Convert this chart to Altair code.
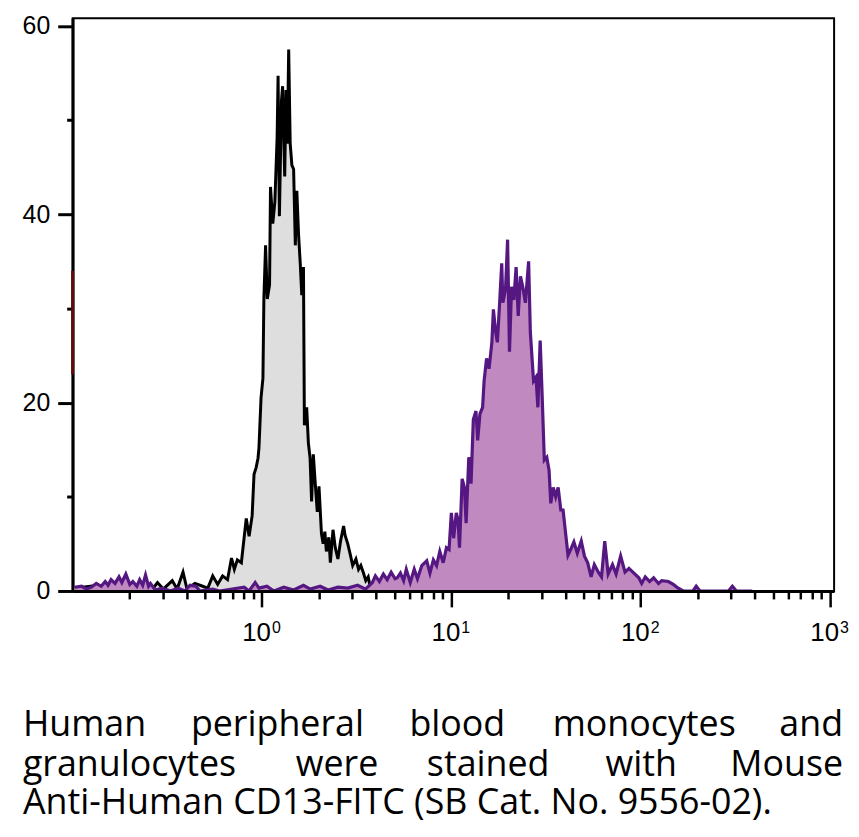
import altair as alt
import pandas as pd

# ---------------- data ----------------
# Unstained control (gray filled, black outline): log10 fluorescence, count
control_log = [-0.990, -0.865, -0.797, -0.719, -0.641, -0.604, -0.578, -0.552, -0.521, -0.474,
               -0.448, -0.417, -0.396, -0.354, -0.313, -0.286, -0.260, -0.234, -0.208, -0.182,
               -0.161, -0.146, -0.130, -0.109, -0.083, -0.068, -0.052, -0.042, -0.031, -0.021,
               -0.016, -0.005, 0.005, 0.010, 0.019, 0.028, 0.040, 0.045, 0.057, 0.068,
               0.080, 0.085, 0.092, 0.103, 0.109, 0.120, 0.127, 0.134, 0.141, 0.149,
               0.158, 0.167, 0.176, 0.184, 0.193, 0.202, 0.210, 0.219, 0.224, 0.236,
               0.245, 0.254, 0.262, 0.271, 0.280, 0.292, 0.301, 0.314, 0.323, 0.332,
               0.340, 0.353, 0.361, 0.375, 0.387, 0.401, 0.415, 0.431, 0.439, 0.453,
               0.467, 0.479, 0.496, 0.510, 0.522, 0.536, 0.548, 0.561, 0.574, 0.589]
control_count = [0.3, 0.6, 0.2, 0.5, 0.3, 0.7, 0.2, 0.9, 0.2, 1.1,
                 0.2, 2.0, 0.2, 0.8, 0.5, 0.3, 1.6, 0.7, 1.6, 1.2,
                 3.5, 2.3, 3.3, 3.0, 7.7, 5.8, 8.0, 12.4, 13.1, 14.1,
                 15.2, 20.5, 22.6, 31.0, 36.7, 31.0, 32.5, 42.9, 39.0, 41.3,
                 48.2, 54.7, 39.8, 52.1, 53.6, 44.0, 53.2, 47.5, 57.5, 47.5,
                 45.2, 44.8, 36.7, 42.5, 37.9, 34.8, 31.4, 34.4, 17.6, 19.5,
                 15.7, 14.1, 9.5, 14.5, 11.8, 8.4, 11.1, 6.1, 5.0, 6.3,
                 4.2, 5.7, 3.0, 6.5, 4.6, 3.4, 5.3, 6.9, 5.9, 5.0,
                 3.8, 2.7, 3.4, 2.3, 2.7, 1.9, 1.1, 1.5, 0.2, 0.0]

# CD13-FITC stained cells (purple): log10 fluorescence, count
stained_log = [-0.990, -0.953, -0.927, -0.901, -0.875, -0.849, -0.828, -0.813, -0.797, -0.776,
               -0.755, -0.740, -0.719, -0.698, -0.682, -0.661, -0.646, -0.630, -0.615, -0.599,
               -0.589, -0.563, -0.526, -0.484, -0.443, -0.406, -0.380, -0.349, -0.328, -0.260,
               -0.224, -0.094, -0.068, -0.036, -0.016, 0.026, 0.063, 0.115, 0.167, 0.219,
               0.255, 0.307, 0.349, 0.401, 0.453, 0.505, 0.547, 0.583, 0.599, 0.620,
               0.641, 0.661, 0.682, 0.703, 0.714, 0.731, 0.748, 0.762, 0.783, 0.804,
               0.821, 0.844, 0.870, 0.887, 0.905, 0.922, 0.939, 0.957, 0.974, 0.988,
               1.000, 1.012, 1.026, 1.035, 1.043, 1.057, 1.069, 1.078, 1.092, 1.104,
               1.116, 1.130, 1.139, 1.151, 1.165, 1.173, 1.186, 1.199, 1.214, 1.222,
               1.234, 1.243, 1.255, 1.266, 1.272, 1.286, 1.297, 1.307, 1.318, 1.330,
               1.342, 1.353, 1.365, 1.377, 1.391, 1.408, 1.417, 1.434, 1.447, 1.457,
               1.469, 1.478, 1.491, 1.504, 1.516, 1.525, 1.538, 1.551, 1.564, 1.578,
               1.590, 1.603, 1.616, 1.630, 1.647, 1.665, 1.686, 1.703, 1.720, 1.738,
               1.755, 1.776, 1.793, 1.810, 1.828, 1.851, 1.870, 1.894, 1.917, 1.938,
               1.964, 1.990, 2.005, 2.024, 2.047, 2.068, 2.094, 2.111, 2.146, 2.172,
               2.198, 2.224, 2.276, 2.293, 2.313, 2.464, 2.484, 2.505, 2.589]
stained_count = [0.4, 0.5, 0.2, 0.4, 0.8, 0.5, 1.0, 0.6, 1.2, 0.8,
                 1.5, 0.9, 1.8, 0.7, 1.0, 0.5, 1.2, 0.6, 1.7, 0.5,
                 0.8, 0.1, 0.3, 0.0, 0.3, 0.0, 0.6, 0.5, 0.0, 0.2,
                 0.0, 0.4, 0.0, 0.9, 0.3, 0.5, 0.0, 0.4, 0.1, 0.6,
                 0.2, 0.5, 0.1, 0.4, 0.3, 0.6, 0.2, 0.9, 1.6, 1.0,
                 1.8, 1.2, 2.0, 1.3, 1.4, 1.9, 1.1, 2.3, 0.9, 2.3,
                 1.3, 2.7, 3.2, 1.9, 3.3, 2.7, 4.2, 3.0, 4.6, 4.4,
                 8.3, 5.6, 8.3, 7.6, 4.6, 11.9, 11.0, 7.2, 14.2, 11.4,
                 18.2, 19.1, 16.0, 18.8, 19.5, 22.3, 24.7, 23.6, 26.4, 29.9,
                 27.5, 26.4, 30.6, 34.8, 30.6, 32.0, 37.3, 25.4, 32.3, 30.9,
                 34.4, 29.2, 33.4, 32.3, 30.6, 35.0, 27.5, 22.3, 22.7, 19.5,
                 26.6, 21.6, 13.9, 14.2, 12.8, 9.3, 11.0, 10.0, 11.0, 8.6,
                 8.6, 6.2, 3.8, 4.4, 5.2, 4.0, 5.3, 3.7, 3.0, 1.5,
                 2.8, 2.0, 1.5, 5.3, 1.8, 2.8, 1.8, 3.7, 2.0, 2.4,
                 1.9, 1.4, 0.8, 1.5, 1.0, 1.4, 0.8, 1.1, 1.0, 0.7,
                 0.3, 0.0, 0.0, 0.5, 0.0, 0.0, 0.5, 0.0, 0.0]

# axis ticks / labels
major_ticks = [1, 10, 100, 1000]
major_base = ["10", "10", "10", "10"]
major_exp = ["0", "1", "2", "3"]
minor_ticks = [0.2, 0.3, 0.4, 0.5, 0.6, 0.7, 0.8, 0.9,
               2, 3, 4, 5, 6, 7, 8, 9,
               20, 30, 40, 50, 60, 70, 80, 90,
               200, 300, 400, 500, 600, 700, 800, 900]
y_ticks = [0, 10, 20, 30, 40, 50, 60]
y_domain = [0, 60.8]
x_domain = [0.1, 1050]
marker_range = [23, 34]   # dark red segment on the y axis

caption_line1 = ["Human", "peripheral", "blood", "monocytes", "and"]
caption_line2 = ["granulocytes", "were", "stained", "with", "Mouse"]
caption_line3 = "Anti-Human CD13-FITC (SB Cat. No. 9556-02)."

# ---------------- chart ----------------
PAD_L, PAD_T = 65, 8
W, H = 766, 576
ORIGIN_X = 8 + PAD_L   # page x of plot left edge
ORIGIN_Y = 8 + PAD_T
TICK_FONT = "Liberation Sans"
CAP_FONT = "Open Sans"

control = pd.DataFrame({"fl": [10 ** v for v in control_log], "count": control_count})
stained = pd.DataFrame({"fl": [10 ** v for v in stained_log], "count": stained_count})

major_str = "[" + ",".join(str(v) for v in major_ticks) + "]"
x_axis = alt.Axis(
    values=minor_ticks + major_ticks, labels=False, title=None, grid=False,
    domainColor="black", domainWidth=3, tickColor="black", tickWidth=2.5,
    tickSize={"condition": {"test": f"indexof({major_str}, datum.value) >= 0", "value": 16}, "value": 8},
    zindex=1,
)
y_axis = alt.Axis(
    values=y_ticks, title=None, grid=False,
    labelExpr="datum.value % 20 == 0 ? datum.label : ''",
    labelFont=TICK_FONT, labelFontSize=25, labelColor="black", labelPadding=8,
    domainColor="black", domainWidth=3, tickColor="black", tickWidth=3,
    tickSize={"condition": {"test": "datum.value % 20 == 0", "value": 15}, "value": 6},
)

xs = alt.Scale(type="log", domain=x_domain, nice=False)
ys = alt.Scale(domain=y_domain, nice=False)

def xenc():
    return alt.X("fl:Q", scale=xs, axis=x_axis)

def yenc():
    return alt.Y("count:Q", scale=ys, axis=y_axis)

ctrl_area = alt.Chart(control).mark_area(color="#dedede", interpolate="linear").encode(x=xenc(), y=yenc())
ctrl_line = alt.Chart(control).mark_line(color="black", strokeWidth=3, interpolate="linear").encode(x=xenc(), y=yenc())
st_area = alt.Chart(stained).mark_area(color="#c089c0", interpolate="linear").encode(x=xenc(), y=yenc())
st_line = alt.Chart(stained).mark_line(color="#551781", strokeWidth=3.2, interpolate="linear").encode(x=xenc(), y=yenc())

marker = alt.Chart(pd.DataFrame({"fl": [x_domain[0]], "count": [marker_range[0]], "c2": [marker_range[1]]})).mark_rule(
    color="#5e0b0b", strokeWidth=3).encode(x=xenc(), y=yenc(), y2="c2:Q")

# x tick labels: "10" with a raised exponent
lab = pd.DataFrame({"fl": major_ticks, "base": major_base, "exp": major_exp})
lab_base = alt.Chart(lab).mark_text(font=TICK_FONT, fontSize=26, color="black", align="right",
                                    baseline="alphabetic", dx=9, y=642 - ORIGIN_Y).encode(x=xenc(), text="base:N")
lab_exp = alt.Chart(lab).mark_text(font=TICK_FONT, fontSize=16, color="black", align="left",
                                   baseline="alphabetic", dx=10, y=634 - ORIGIN_Y).encode(x=xenc(), text="exp:N")

# caption (justified lines; positions given in page pixels)
def word(t, px, py, align):
    return alt.Chart(pd.DataFrame({"t": [t]})).mark_text(
        font=CAP_FONT, fontSize=36, color="black", align=align, baseline="alphabetic",
        x=px - ORIGIN_X, y=py - ORIGIN_Y
    ).encode(text="t:N")

LEFT, RIGHT = 23, 848
line1_pos = [LEFT, 279, 460, 648, RIGHT]
line2_pos = [LEFT, 339, 491, 645, RIGHT]
caption = []
for words, pos, yy in [(caption_line1, line1_pos, 738), (caption_line2, line2_pos, 778)]:
    for i, (w, p) in enumerate(zip(words, pos)):
        al = "left" if i == 0 else ("right" if i == len(words) - 1 else "center")
        caption.append(word(w, p, yy, al))
caption.append(word(caption_line3, LEFT, 816, "left"))

chart = alt.layer(ctrl_area, ctrl_line, st_area, st_line, marker, lab_base, lab_exp, *caption).properties(
    width=W, height=H,
    autosize=alt.AutoSizeParams(type="none"),
    padding={"left": PAD_L, "top": PAD_T, "right": 17, "bottom": 234},
    background="white",
).configure_view(stroke="black", strokeWidth=2)

chart.save("out.html", embed_options={"renderer": "svg", "actions": False})
